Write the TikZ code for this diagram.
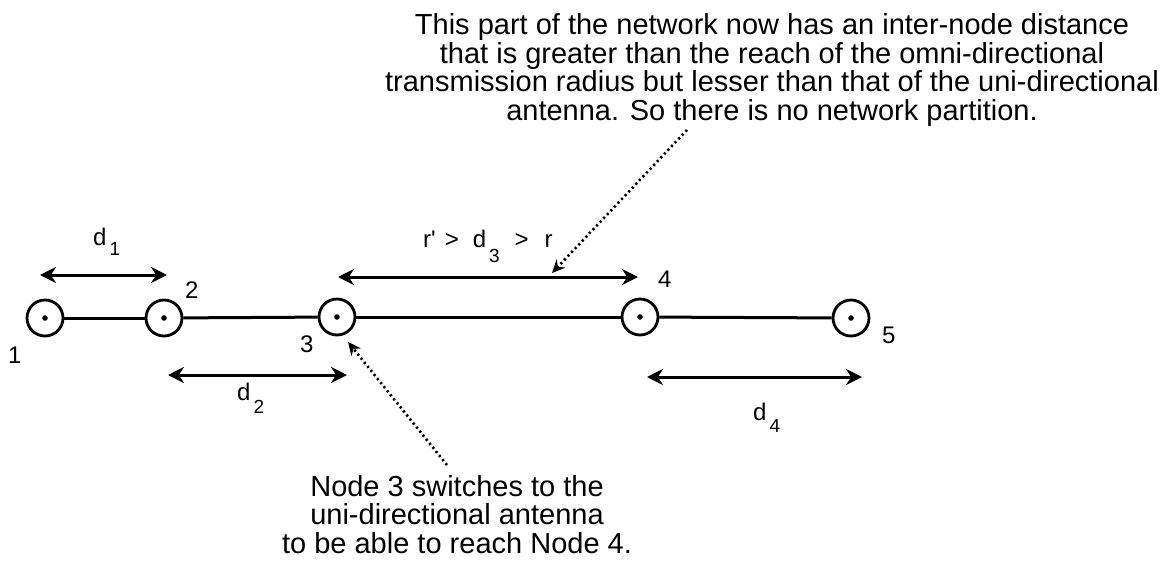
\documentclass[tikz,border=0pt]{standalone}
\usepackage{fontspec}
\setmainfont{Liberation Sans}
\usetikzlibrary{arrows.meta}
\begin{document}
\begin{tikzpicture}[x=1pt,y=-1pt,
  netnode/.style={circle,draw,line width=2.8pt,minimum size=36pt,inner sep=0pt},
  link/.style={line width=3pt},
  span/.style={line width=3pt,{Stealth[length=16pt,width=16pt]}-{Stealth[length=16pt,width=16pt]}},
  pointer/.style={line width=2.6pt,dash pattern=on 2.2pt off 3pt,-{Stealth[length=13pt,width=12pt]}},
  lbl/.style={font=\fontsize{24}{28}\selectfont,inner sep=0pt,anchor=base west},
  note/.style={font=\fontsize{29}{28.4}\selectfont,align=center,inner sep=0pt,anchor=base}]
\useasboundingbox (0,0) rectangle (1174,565);
\newcommand{\subnum}[2]{\raisebox{-#1}{\fontsize{19}{21}\selectfont #2}}

% network nodes
\node[netnode] (n1) at (45,318) {};
\node[netnode] (n2) at (164,318) {};
\node[netnode] (n3) at (337,317) {};
\node[netnode] (n4) at (640,317) {};
\node[netnode] (n5) at (851,318) {};
\foreach \n in {n1,n2,n3,n4,n5} {\fill (\n) circle (2.8);}

\draw[link] (n1) -- (n2);
\draw[link] (n2) -- (n3);
\draw[link] (n3) -- (n4);
\draw[link] (n4) -- (n5);

% node numbers
\node[lbl] (l1) at (8,363) {1};
\node[lbl] (l2) at (185,298) {2};
\node[lbl] (l3) at (300,352) {3};
\node[lbl] (l4) at (658,287) {4};
\node[lbl] (l5) at (882,343) {5};

% distance arrows
\coordinate (a1) at (40,275);  \coordinate (b1) at (167,275);
\coordinate (a2) at (168,375); \coordinate (b2) at (347,375);
\coordinate (a3) at (338,277); \coordinate (b3) at (638,277);
\coordinate (a4) at (647,377); \coordinate (b4) at (862,377);
\draw[span] (a1) -- (b1);
\draw[span] (a2) -- (b2);
\draw[span] (a3) -- (b3);
\draw[span] (a4) -- (b4);

% distance labels
\node[lbl] (dl1) at (93,245) {d\hspace{3pt}\subnum{10pt}{1}};
\node[lbl] (dl2) at (237,400) {d\hspace{3pt}\subnum{13pt}{2}};
\node[lbl] (dl3) at (423,247) {r\textquotesingle\hspace{9pt}>\hspace{14pt}d\hspace{3pt}\subnum{15pt}{3}\hspace{15pt}>\hspace{16pt}r};
\node[lbl] (dl4) at (753,420) {d\hspace{3pt}\subnum{12pt}{4}};

% notes (anchor base = baseline of the last line)
\node[note] (top) at (772,120) {This part of the network now has an inter-node distance\\
that is greater than the reach of the omni-directional\\
transmission radius but lesser than that of the uni-directional\\
antenna. So there is no network partition.};
\node[note] (bot) at (457,553) {Node 3 switches to the\\
uni-directional antenna\\
to be able to reach Node 4.};

% pointers
\coordinate (p1s) at (687,130); \coordinate (p1e) at (552,273);
\coordinate (p2s) at (447,465); \coordinate (p2e) at (348,342);
\draw[pointer] (p1s) -- (p1e);
\draw[pointer] (p2s) -- (p2e);
\end{tikzpicture}
\end{document}
